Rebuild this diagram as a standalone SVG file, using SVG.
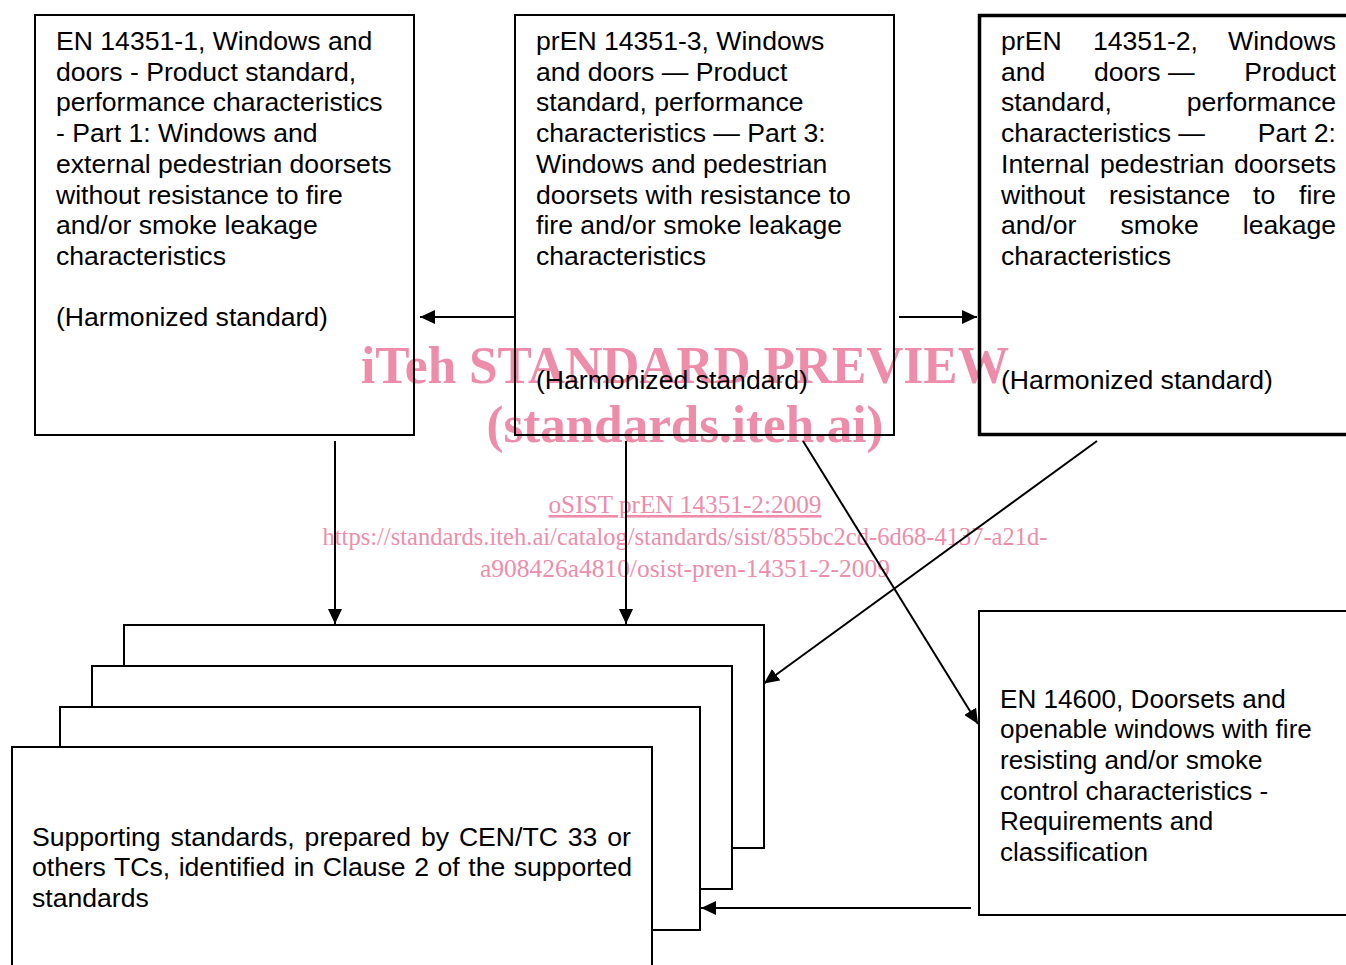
<svg xmlns="http://www.w3.org/2000/svg" width="1346" height="965" viewBox="0 0 1346 965">
<style>
.t{font-family:"Liberation Sans",Arial,sans-serif;font-size:26.6px;fill:#000}
.t2{font-family:"Liberation Sans",Arial,sans-serif;font-size:26.1px;fill:#000}
.box{fill:none;stroke:#000;stroke-width:2}
.st{fill:#fff;stroke:#000;stroke-width:2}
.wm{font-family:"Liberation Serif","Times New Roman",serif;fill:#EE8DAA;text-anchor:middle}
.c{stroke:#000;stroke-width:2;fill:none;marker-end:url(#ah)}
</style>
<defs>
<marker id="ah" viewBox="0 0 15 14" refX="15" refY="7" markerWidth="15" markerHeight="14" markerUnits="userSpaceOnUse" orient="auto">
<path d="M0,0 L15,7 L0,14 z" fill="#000"/>
</marker>
</defs>
<rect width="1346" height="965" fill="#fff"/>
<g id="watermark">
<text class="wm" x="685" y="383" font-size="52" font-weight="bold" textLength="648" lengthAdjust="spacingAndGlyphs">iTeh STANDARD PREVIEW</text>
<text class="wm" x="685" y="442" font-size="52" font-weight="bold" textLength="397" lengthAdjust="spacingAndGlyphs">(standards.iteh.ai)</text>
<text class="wm" x="685" y="513" font-size="26" text-decoration="underline" textLength="273" lengthAdjust="spacingAndGlyphs">oSIST prEN 14351-2:2009</text>
<text class="wm" x="685" y="545" font-size="26" textLength="725" lengthAdjust="spacingAndGlyphs">https://standards.iteh.ai/catalog/standards/sist/855bc2cd-6d68-4137-a21d-</text>
<text class="wm" x="685" y="577" font-size="26" textLength="410" lengthAdjust="spacingAndGlyphs">a908426a4810/osist-pren-14351-2-2009</text>
</g>
<g id="en14351-1">
<rect class="box" x="35" y="15" width="379" height="420"/>
<text class="t" x="56" y="50">EN 14351-1, Windows and</text>
<text class="t" x="56" y="80.7">doors - Product standard,</text>
<text class="t" x="56" y="111.4">performance characteristics</text>
<text class="t" x="56" y="142.1">- Part 1: Windows and</text>
<text class="t" x="56" y="172.8">external pedestrian doorsets</text>
<text class="t" x="56" y="203.5">without resistance to fire</text>
<text class="t" x="56" y="234.2">and/or smoke leakage</text>
<text class="t" x="56" y="264.9">characteristics</text>
<text class="t" x="56" y="326.3">(Harmonized standard)</text>
</g>
<g id="pren14351-3">
<rect class="box" x="515" y="15" width="379" height="420"/>
<text class="t" x="536" y="50">prEN 14351-3, Windows</text>
<text class="t" x="536" y="80.7">and doors — Product</text>
<text class="t" x="536" y="111.4">standard, performance</text>
<text class="t" x="536" y="142.1">characteristics — Part 3:</text>
<text class="t" x="536" y="172.8">Windows and pedestrian</text>
<text class="t" x="536" y="203.5">doorsets with resistance to</text>
<text class="t" x="536" y="234.2">fire and/or smoke leakage</text>
<text class="t" x="536" y="264.9">characteristics</text>
<text class="t" x="536" y="389">(Harmonized standard)</text>
</g>
<g id="pren14351-2">
<rect x="979.5" y="15.5" width="400" height="419" fill="none" stroke="#000" stroke-width="3.5"/>
<text class="t" x="1001" y="50">prEN</text>
<text class="t" x="1093" y="50">14351-2,</text>
<text class="t" x="1336" y="50" text-anchor="end">Windows</text>
<text class="t" x="1001" y="80.7">and</text>
<text class="t" x="1094" y="80.7">doors —</text>
<text class="t" x="1336" y="80.7" text-anchor="end">Product</text>
<text class="t" x="1001" y="111.4">standard,</text>
<text class="t" x="1336" y="111.4" text-anchor="end">performance</text>
<text class="t" x="1001" y="142.1">characteristics —</text>
<text class="t" x="1336" y="142.1" text-anchor="end">Part 2:</text>
<text class="t" x="1001" y="172.8">Internal</text>
<text class="t" x="1100" y="172.8">pedestrian</text>
<text class="t" x="1336" y="172.8" text-anchor="end">doorsets</text>
<text class="t" x="1001" y="203.5">without</text>
<text class="t" x="1109" y="203.5">resistance</text>
<text class="t" x="1253" y="203.5">to</text>
<text class="t" x="1336" y="203.5" text-anchor="end">fire</text>
<text class="t" x="1001" y="234.2">and/or</text>
<text class="t" x="1120.5" y="234.2">smoke</text>
<text class="t" x="1336" y="234.2" text-anchor="end">leakage</text>
<text class="t" x="1001" y="264.9">characteristics</text>
<text class="t" x="1001" y="389">(Harmonized standard)</text>
</g>
<g id="supporting-standards">
<rect class="st" x="124" y="625" width="640" height="223"/>
<rect class="st" x="92" y="666" width="640" height="223"/>
<rect class="st" x="60" y="707" width="640" height="223"/>
<rect class="st" x="12" y="747" width="640" height="240"/>
<text class="t" x="32" y="845.5" word-spacing="2.5">Supporting standards, prepared by CEN/TC 33 or</text>
<text class="t" x="32" y="876.2" word-spacing="1.15">others TCs, identified in Clause 2 of the supported</text>
<text class="t" x="32" y="906.9">standards</text>
</g>
<g id="en14600">
<rect class="box" x="979" y="611" width="400" height="304"/>
<text class="t2" x="1000" y="707.5">EN 14600, Doorsets and</text>
<text class="t2" x="1000" y="738.2">openable windows with fire</text>
<text class="t2" x="1000" y="768.9">resisting and/or smoke</text>
<text class="t2" x="1000" y="799.6">control characteristics -</text>
<text class="t2" x="1000" y="830.3">Requirements and</text>
<text class="t2" x="1000" y="861">classification</text>
</g>
<g id="connectors">
<line class="c" x1="515" y1="317" x2="420" y2="317"/>
<line class="c" x1="899" y1="317" x2="977" y2="317"/>
<line class="c" x1="335" y1="441" x2="335" y2="624"/>
<line class="c" x1="626" y1="441" x2="626" y2="624"/>
<line class="c" x1="803" y1="441" x2="978" y2="724"/>
<line class="c" x1="1097" y1="441" x2="764" y2="683.5"/>
<line class="c" x1="971" y1="908" x2="701" y2="908"/>
</g>
</svg>
